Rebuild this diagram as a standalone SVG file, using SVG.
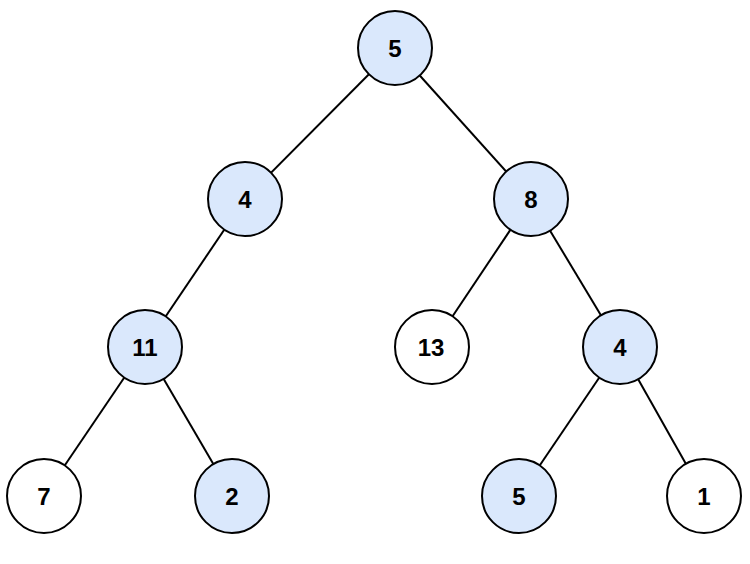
<svg xmlns="http://www.w3.org/2000/svg" width="750" height="564" viewBox="0 0 750 564">
<style>
.e{stroke:#000;stroke-width:2;fill:none}
.n{stroke:#000;stroke-width:2}
.b{fill:#dae8fc}
.w{fill:#fff}
text{font-family:"Liberation Sans",Arial,sans-serif;font-weight:bold;font-size:24px;text-anchor:middle;fill:#000}
</style>
<rect width="750" height="564" fill="#fff"/>
<g id="connectors">
<line class="e" x1="395" y1="48" x2="245" y2="199"/>
<line class="e" x1="395" y1="48" x2="531" y2="199"/>
<line class="e" x1="245" y1="199" x2="145" y2="347"/>
<line class="e" x1="531" y1="199" x2="432" y2="347"/>
<line class="e" x1="531" y1="199" x2="620" y2="347"/>
<line class="e" x1="145" y1="347" x2="44" y2="496"/>
<line class="e" x1="145" y1="347" x2="232" y2="496"/>
<line class="e" x1="620" y1="347" x2="519" y2="496"/>
<line class="e" x1="620" y1="347" x2="704" y2="496"/>
</g>
<g id="n5a"><circle class="n b" cx="395" cy="48" r="37"/><text x="395" y="56.5">5</text></g>
<g id="n4a"><circle class="n b" cx="245" cy="199" r="37"/><text x="245" y="207.5">4</text></g>
<g id="n8"><circle class="n b" cx="531" cy="199" r="37"/><text x="531" y="207.5">8</text></g>
<g id="n11"><circle class="n b" cx="145" cy="347" r="37"/><text x="145" y="355.5">11</text></g>
<g id="n13"><circle class="n w" cx="432" cy="347" r="37"/><text x="431" y="355.5">13</text></g>
<g id="n4b"><circle class="n b" cx="620" cy="347" r="37"/><text x="620" y="355.5">4</text></g>
<g id="n7"><circle class="n w" cx="44" cy="496" r="37"/><text x="44" y="504.5">7</text></g>
<g id="n2"><circle class="n b" cx="232" cy="496" r="37"/><text x="232" y="504.5">2</text></g>
<g id="n5b"><circle class="n b" cx="519" cy="496" r="37"/><text x="519" y="504.5">5</text></g>
<g id="n1"><circle class="n w" cx="704" cy="496" r="37"/><text x="704" y="504.5">1</text></g>
</svg>
